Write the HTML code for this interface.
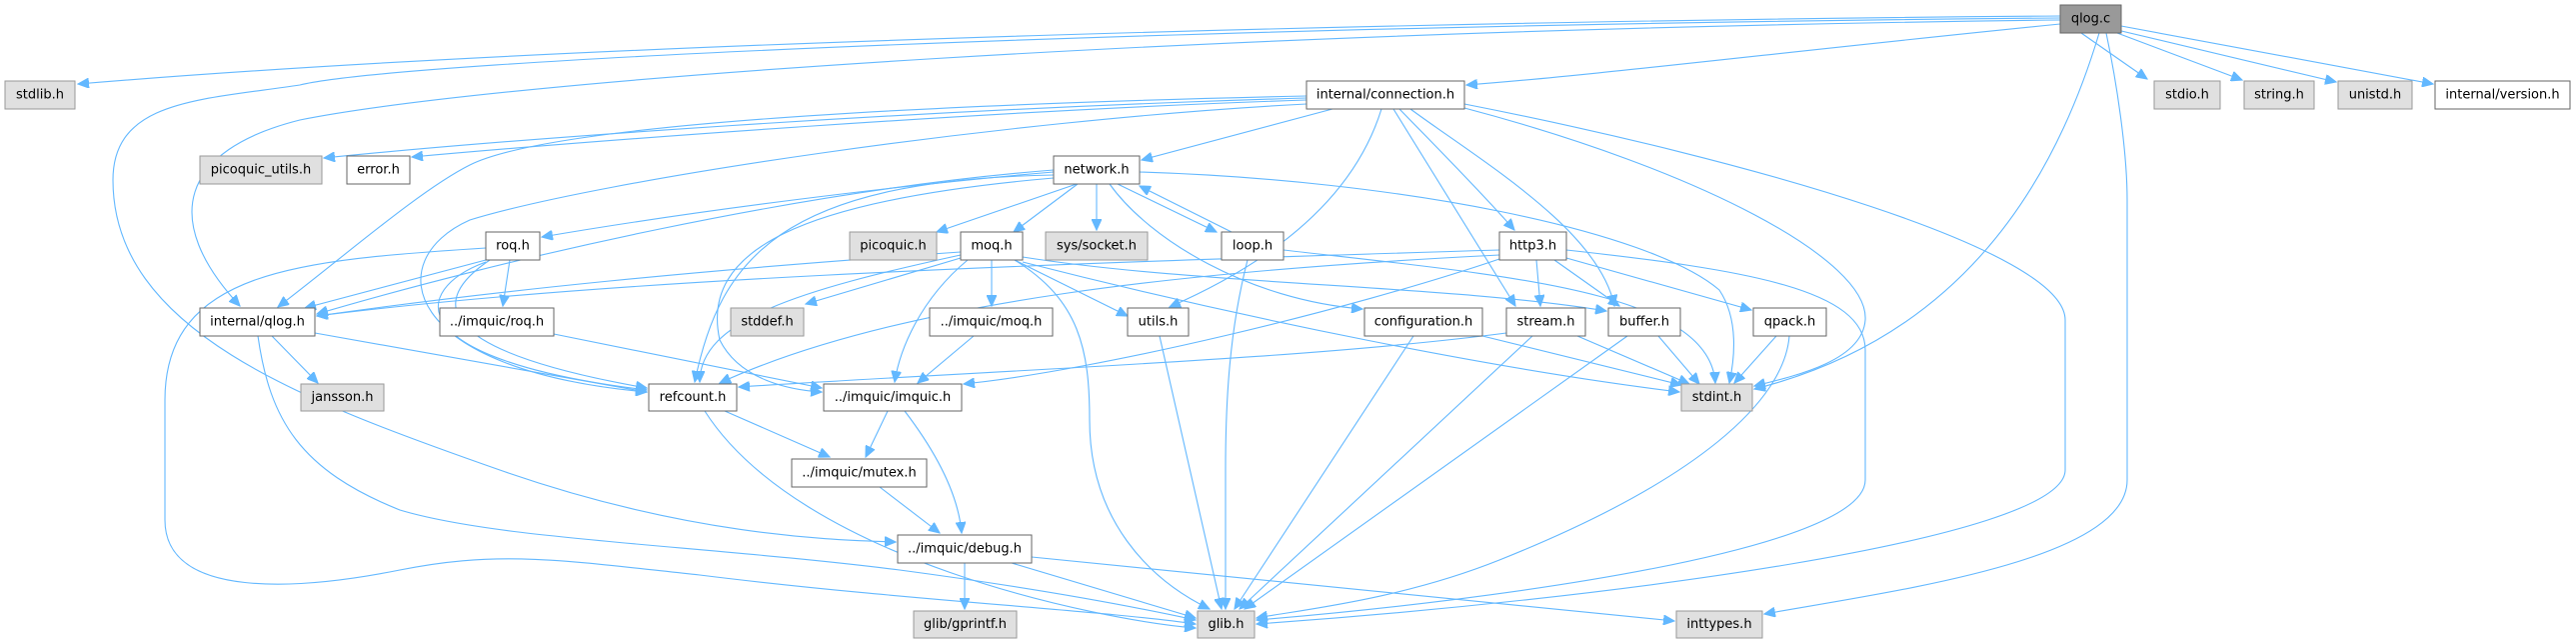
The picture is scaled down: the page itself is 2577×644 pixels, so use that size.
<!DOCTYPE html>
<html><head><meta charset="utf-8"><style>
html,body{margin:0;padding:0;background:#fff;}
svg{display:block}
text{font-family:"DejaVu Sans","Liberation Sans",sans-serif;font-size:13px;fill:#000;text-anchor:middle;dominant-baseline:central;}
.n{fill:#fff;stroke:#666;stroke-width:1}
.g{fill:#e0e0e0;stroke:#999;stroke-width:1}
.r{fill:#999;stroke:#666;stroke-width:1}
path{fill:none;stroke:#63b8ff;stroke-width:1.1;marker-end:url(#a)}
</style></head><body>
<svg width="2577" height="644" viewBox="0 0 2577 644" xmlns="http://www.w3.org/2000/svg">
<defs><marker id="a" markerUnits="userSpaceOnUse" markerWidth="12" markerHeight="10" refX="11" refY="5" orient="auto"><path d="M0,0 L11,5 L0,10 z" style="fill:#63b8ff;stroke:#63b8ff;marker-end:none"/></marker></defs>
<g>
<path d="M2061,16 C1500,20 600,40 78,84"/>
<path d="M2061,18 C1200,25 400,60 300,85 C200,100 113,100 113,180 C113,330 300,400 500,470 C700,540 850,540 896,542"/>
<path d="M2061,20 C1200,30 500,80 300,120 C180,150 160,220 240,306"/>
<path d="M2061,24 C1800,50 1600,75 1467,85"/>
<path d="M2100,33 C2050,200 1950,340 1755,389"/>
<path d="M2107,33 C2117,80 2128,150 2128,200 L2128,480 C2128,560 1900,590 1765,614"/>
<path d="M2082,33 L2148,79"/>
<path d="M2110,30 L2243,80"/>
<path d="M2118,30 L2337,82"/>
<path d="M2122,26 L2434,84"/>
<path d="M1307,98 C900,110 500,140 324,158"/>
<path d="M1307,100 C1000,110 600,140 412,157"/>
<path d="M1307,96 C900,105 550,125 470,165 C420,190 340,260 278,307"/>
<path d="M1307,104 C1000,120 600,180 470,220 C380,260 400,370 647,392"/>
<path d="M1333,109 L1142,160"/>
<path d="M1382,109 C1360,180 1300,250 1170,307"/>
<path d="M1394,109 L1516,306"/>
<path d="M1400,109 C1430,140 1480,190 1515,230"/>
<path d="M1411,109 C1480,160 1600,230 1615,306"/>
<path d="M1465,108 C1700,170 1870,260 1866,320 C1863,360 1800,375 1755,386"/>
<path d="M1465,104 C1750,160 2066,250 2066,320 L2066,470 C2066,540 1600,600 1257,624"/>
<path d="M1054,172 C900,185 700,210 542,237"/>
<path d="M1077,184 L937,232"/>
<path d="M1078,184 L1014,232"/>
<path d="M1097,184 L1097,230"/>
<path d="M1118,184 L1217,232"/>
<path d="M1232,232 L1140,186"/>
<path d="M1110,184 C1150,240 1250,300 1363,309"/>
<path d="M1054,175 C780,180 720,260 695,382"/>
<path d="M1054,178 C800,200 700,250 720,340 C740,380 790,390 822,392"/>
<path d="M1054,170 C800,190 500,260 317,314"/>
<path d="M1140,172 C1400,180 1650,230 1720,290 C1740,320 1735,360 1730,383"/>
<path d="M1248,260 C1230,330 1226,400 1226,470 C1226,540 1226,590 1226,609"/>
<path d="M1284,250 C1500,275 1710,290 1716,383"/>
<path d="M961,258 L806,304"/>
<path d="M961,252 C700,270 500,290 317,316"/>
<path d="M961,255 C800,290 700,320 700,382"/>
<path d="M992,260 L992,306"/>
<path d="M968,260 C920,300 900,350 895,382"/>
<path d="M1015,260 L1128,316"/>
<path d="M1015,260 C1080,300 1090,350 1090,420 C1090,520 1150,580 1210,609"/>
<path d="M1023,257 C1200,285 1450,285 1607,311"/>
<path d="M1023,262 C1250,320 1500,370 1680,392"/>
<path d="M486,260 L305,308"/>
<path d="M510,260 L503,306"/>
<path d="M486,262 C410,290 400,360 647,390"/>
<path d="M490,260 C430,300 430,350 647,388"/>
<path d="M486,248 C300,260 165,270 165,400 L165,520 C165,600 300,590 400,570 C500,550 560,560 700,575 C900,600 1100,610 1196,624"/>
<path d="M272,336 L318,383"/>
<path d="M315,333 L647,392"/>
<path d="M258,336 C270,420 300,470 400,510 C500,540 700,545 900,570 C1050,590 1150,610 1196,620"/>
<path d="M554,334 L822,388"/>
<path d="M974,336 L918,383"/>
<path d="M1500,250 C1000,265 600,280 317,316"/>
<path d="M1500,255 C1200,270 900,300 720,383"/>
<path d="M1500,259 C1350,310 1100,370 964,384"/>
<path d="M1537,260 L1541,306"/>
<path d="M1555,260 L1620,306"/>
<path d="M1567,258 L1752,310"/>
<path d="M1567,250 C1750,270 1866,290 1866,350 L1866,480 C1866,550 1500,600 1257,620"/>
<path d="M1414,336 L1235,609"/>
<path d="M1483,336 L1682,385"/>
<path d="M1507,333 C1300,360 1000,370 739,387"/>
<path d="M1533,336 L1240,609"/>
<path d="M1578,336 L1690,384"/>
<path d="M1628,336 L1245,609"/>
<path d="M1659,336 L1700,384"/>
<path d="M1777,336 L1735,383"/>
<path d="M1790,336 C1785,400 1700,480 1500,560 C1400,600 1300,610 1257,618"/>
<path d="M1160,336 L1222,609"/>
<path d="M725,411 L830,457"/>
<path d="M705,411 C800,560 1100,620 1196,628"/>
<path d="M888,411 L866,457"/>
<path d="M905,411 C950,470 960,510 962,533"/>
<path d="M880,487 L940,533"/>
<path d="M965,563 L965,609"/>
<path d="M1012,563 L1196,618"/>
<path d="M1032,557 L1675,621"/>
</g>
<g>
<rect class="r" x="2061" y="5" width="61" height="28"/><text x="2091.5" y="19">qlog.c</text>
<rect class="g" x="5" y="81" width="70" height="28"/><text x="40" y="95">stdlib.h</text>
<rect class="n" x="1307" y="81" width="158" height="28"/><text x="1386" y="95">internal/connection.h</text>
<rect class="g" x="2155" y="81" width="66" height="28"/><text x="2188" y="95">stdio.h</text>
<rect class="g" x="2245" y="81" width="70" height="28"/><text x="2280" y="95">string.h</text>
<rect class="g" x="2339" y="81" width="74" height="28"/><text x="2376" y="95">unistd.h</text>
<rect class="n" x="2436" y="81" width="135" height="28"/><text x="2503.5" y="95">internal/version.h</text>
<rect class="g" x="200" y="156" width="122" height="28"/><text x="261" y="170">picoquic_utils.h</text>
<rect class="n" x="347" y="156" width="63" height="28"/><text x="378.5" y="170">error.h</text>
<rect class="n" x="1054" y="156" width="86" height="28"/><text x="1097" y="170">network.h</text>
<rect class="n" x="486" y="232" width="54" height="28"/><text x="513" y="246">roq.h</text>
<rect class="g" x="850" y="232" width="87" height="28"/><text x="893.5" y="246">picoquic.h</text>
<rect class="n" x="961" y="232" width="62" height="28"/><text x="992" y="246">moq.h</text>
<rect class="g" x="1046" y="232" width="102" height="28"/><text x="1097" y="246">sys/socket.h</text>
<rect class="n" x="1222" y="232" width="62" height="28"/><text x="1253" y="246">loop.h</text>
<rect class="n" x="1500" y="232" width="67" height="28"/><text x="1533.5" y="246">http3.h</text>
<rect class="n" x="200" y="308" width="115" height="28"/><text x="257.5" y="322">internal/qlog.h</text>
<rect class="n" x="440" y="308" width="114" height="28"/><text x="497" y="322">../imquic/roq.h</text>
<rect class="g" x="731" y="308" width="73" height="28"/><text x="767.5" y="322">stddef.h</text>
<rect class="n" x="930" y="308" width="123" height="28"/><text x="991.5" y="322">../imquic/moq.h</text>
<rect class="n" x="1128" y="308" width="61" height="28"/><text x="1158.5" y="322">utils.h</text>
<rect class="n" x="1365" y="308" width="118" height="28"/><text x="1424" y="322">configuration.h</text>
<rect class="n" x="1507" y="308" width="79" height="28"/><text x="1546.5" y="322">stream.h</text>
<rect class="n" x="1609" y="308" width="72" height="28"/><text x="1645" y="322">buffer.h</text>
<rect class="n" x="1754" y="308" width="73" height="28"/><text x="1790.5" y="322">qpack.h</text>
<rect class="g" x="301" y="384" width="83" height="27"/><text x="342.5" y="397.5">jansson.h</text>
<rect class="n" x="649" y="384" width="88" height="27"/><text x="693" y="397.5">refcount.h</text>
<rect class="n" x="824" y="384" width="138" height="27"/><text x="893" y="397.5">../imquic/imquic.h</text>
<rect class="g" x="1682" y="384" width="71" height="27"/><text x="1717.5" y="397.5">stdint.h</text>
<rect class="n" x="792" y="459" width="135" height="28"/><text x="859.5" y="473">../imquic/mutex.h</text>
<rect class="n" x="898" y="535" width="134" height="28"/><text x="965" y="549">../imquic/debug.h</text>
<rect class="g" x="914" y="611" width="103" height="27"/><text x="965.5" y="624.5">glib/gprintf.h</text>
<rect class="g" x="1198" y="611" width="57" height="27"/><text x="1226.5" y="624.5">glib.h</text>
<rect class="g" x="1677" y="611" width="86" height="27"/><text x="1720" y="624.5">inttypes.h</text>
</g>
</svg>
</body></html>
